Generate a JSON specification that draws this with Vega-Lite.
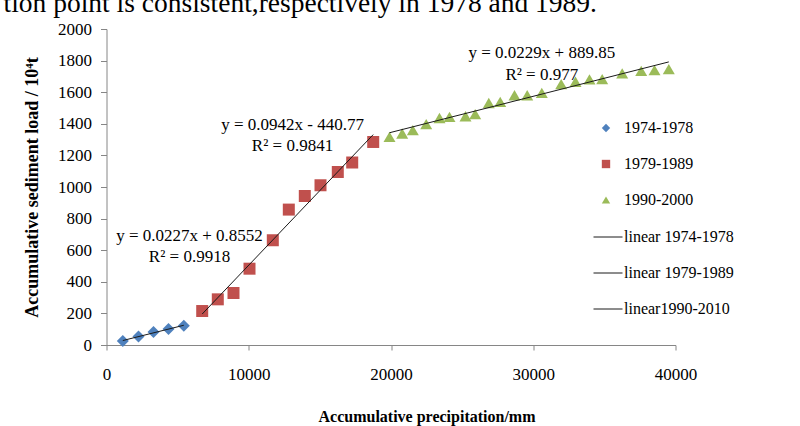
{
  "$schema": "https://vega.github.io/schema/vega-lite/v6.json",
  "width": 569,
  "height": 316,
  "autosize": {"type": "none"},
  "padding": {"left": 106.5, "top": 29, "right": 124.5, "bottom": 81},
  "background": "white",
  "title": {
    "text": "tion point is consistent,respectively in 1978 and 1989.",
    "anchor": "start",
    "frame": "group",
    "font": "Liberation Serif",
    "fontSize": 27.5,
    "fontWeight": "normal",
    "color": "black",
    "baseline": "alphabetic",
    "offset": 0,
    "dy": 19,
    "dx": -103
  },
  "config": {
    "view": {"stroke": null},
    "font": "Liberation Serif",
    "legend": {"labelFont": "Liberation Serif", "labelFontSize": 16, "labelColor": "black"}
  },
  "datasets": {
    "points": [
      {"x": 1146, "y": 25, "series": "1974-1978", "fit": "linear 1974-1978"},
      {"x": 2250, "y": 54, "series": "1974-1978", "fit": "linear 1974-1978"},
      {"x": 3304, "y": 82, "series": "1974-1978", "fit": "linear 1974-1978"},
      {"x": 4358, "y": 101, "series": "1974-1978", "fit": "linear 1974-1978"},
      {"x": 5435, "y": 122, "series": "1974-1978", "fit": "linear 1974-1978"},
      {"x": 6728, "y": 215, "series": "1979-1989", "fit": "linear 1979-1989"},
      {"x": 7824, "y": 289, "series": "1979-1989", "fit": "linear 1979-1989"},
      {"x": 8928, "y": 329, "series": "1979-1989", "fit": "linear 1979-1989"},
      {"x": 10053, "y": 483, "series": "1979-1989", "fit": "linear 1979-1989"},
      {"x": 11691, "y": 663, "series": "1979-1989", "fit": "linear 1979-1989"},
      {"x": 12816, "y": 857, "series": "1979-1989", "fit": "linear 1979-1989"},
      {"x": 13940, "y": 943, "series": "1979-1989", "fit": "linear 1979-1989"},
      {"x": 15044, "y": 1011, "series": "1979-1989", "fit": "linear 1979-1989"},
      {"x": 16260, "y": 1095, "series": "1979-1989", "fit": "linear 1979-1989"},
      {"x": 17273, "y": 1155, "series": "1979-1989", "fit": "linear 1979-1989"},
      {"x": 18749, "y": 1285, "series": "1979-1989", "fit": "linear 1979-1989"},
      {"x": 19895, "y": 1317, "series": "1990-2000", "fit": "linear1990-2010"},
      {"x": 20788, "y": 1339, "series": "1990-2000", "fit": "linear1990-2010"},
      {"x": 21533, "y": 1360, "series": "1990-2000", "fit": "linear1990-2010"},
      {"x": 22475, "y": 1398, "series": "1990-2000", "fit": "linear1990-2010"},
      {"x": 23409, "y": 1437, "series": "1990-2000", "fit": "linear1990-2010"},
      {"x": 24112, "y": 1444, "series": "1990-2000", "fit": "linear1990-2010"},
      {"x": 25237, "y": 1448, "series": "1990-2000", "fit": "linear1990-2010"},
      {"x": 25919, "y": 1461, "series": "1990-2000", "fit": "linear1990-2010"},
      {"x": 26875, "y": 1532, "series": "1990-2000", "fit": "linear1990-2010"},
      {"x": 27677, "y": 1539, "series": "1990-2000", "fit": "linear1990-2010"},
      {"x": 28682, "y": 1581, "series": "1990-2000", "fit": "linear1990-2010"},
      {"x": 29575, "y": 1581, "series": "1990-2000", "fit": "linear1990-2010"},
      {"x": 30601, "y": 1596, "series": "1990-2000", "fit": "linear1990-2010"},
      {"x": 31964, "y": 1651, "series": "1990-2000", "fit": "linear1990-2010"},
      {"x": 32970, "y": 1666, "series": "1990-2000", "fit": "linear1990-2010"},
      {"x": 33954, "y": 1681, "series": "1990-2000", "fit": "linear1990-2010"},
      {"x": 34847, "y": 1683, "series": "1990-2000", "fit": "linear1990-2010"},
      {"x": 36253, "y": 1719, "series": "1990-2000", "fit": "linear1990-2010"},
      {"x": 37589, "y": 1735, "series": "1990-2000", "fit": "linear1990-2010"},
      {"x": 38524, "y": 1740, "series": "1990-2000", "fit": "linear1990-2010"},
      {"x": 39529, "y": 1746, "series": "1990-2000", "fit": "linear1990-2010"}
    ],
    "notes": [
      {"x": 5835, "y": 688, "label": "y = 0.0227x + 0.8552"},
      {"x": 5835, "y": 555, "label": "R² = 0.9918"},
      {"x": 13076, "y": 1391, "label": "y = 0.0942x - 440.77"},
      {"x": 13076, "y": 1258, "label": "R² = 0.9841"},
      {"x": 30601, "y": 1845, "label": "y = 0.0229x + 889.85"},
      {"x": 30601, "y": 1712, "label": "R² = 0.977"}
    ]
  },
  "encoding": {
    "x": {
      "field": "x",
      "type": "quantitative",
      "scale": {"domain": [0, 40000], "nice": false},
      "axis": {
        "values": [0, 10000, 20000, 30000, 40000],
        "format": "d",
        "title": "Accumulative precipitation/mm",
        "grid": false,
        "domainColor": "#868686",
        "tickColor": "#868686",
        "tickSize": 5,
        "labelFont": "Liberation Serif",
        "labelFontSize": 17,
        "labelColor": "black",
        "labelPadding": 16,
        "labelFlush": false,
        "labelOverlap": false,
        "titleFont": "Liberation Serif",
        "titleFontSize": 16,
        "titleFontWeight": "bold",
        "titleColor": "black",
        "titleX": 320,
        "titleY": 71,
        "titleBaseline": "middle",
        "titleAlign": "center"
      }
    },
    "y": {
      "field": "y",
      "type": "quantitative",
      "scale": {"domain": [0, 2000], "nice": false},
      "axis": {
        "values": [0, 200, 400, 600, 800, 1000, 1200, 1400, 1600, 1800, 2000],
        "format": "d",
        "title": "Accumulative sediment load / 10⁴t",
        "grid": false,
        "domainColor": "#868686",
        "tickColor": "#868686",
        "tickSize": 6,
        "labelFont": "Liberation Serif",
        "labelFontSize": 17,
        "labelColor": "black",
        "labelPadding": 9,
        "labelFlush": false,
        "labelOverlap": false,
        "titleFont": "Liberation Serif",
        "titleFontSize": 18,
        "titleFontWeight": "bold",
        "titleColor": "black",
        "titleAngle": -90,
        "titleX": -74,
        "titleY": 158,
        "titleBaseline": "middle",
        "titleAlign": "center"
      }
    }
  },
  "layer": [
    {
      "data": {"name": "points"},
      "mark": {"type": "point", "filled": true, "opacity": 1, "size": 144},
      "encoding": {
        "color": {
          "field": "series",
          "type": "nominal",
          "scale": {"domain": ["1974-1978", "1979-1989", "1990-2000"], "range": ["#4F81BD", "#C0504D", "#9BBB59"]},
          "legend": {
            "title": null,
            "orient": "none",
            "legendX": 486.5,
            "legendY": 91,
            "symbolSize": 70,
            "symbolOffset": 5,
            "labelOffset": 10,
            "rowPadding": 20,
            "labelFont": "Liberation Serif",
            "labelFontSize": 16,
            "labelColor": "black"
          }
        },
        "shape": {
          "field": "series",
          "type": "nominal",
          "scale": {"domain": ["1974-1978", "1979-1989", "1990-2000"], "range": ["diamond", "square", "triangle-up"]},
          "legend": {
            "title": null,
            "orient": "none",
            "legendX": 486.5,
            "legendY": 91,
            "symbolSize": 70,
            "symbolOffset": 5,
            "labelOffset": 10,
            "rowPadding": 20,
            "labelFont": "Liberation Serif",
            "labelFontSize": 16,
            "labelColor": "black"
          }
        }
      }
    },
    {
      "data": {"name": "points"},
      "transform": [{"regression": "y", "on": "x", "groupby": ["fit"]}],
      "mark": {"type": "line", "strokeWidth": 1},
      "encoding": {
        "color": {
          "field": "fit",
          "type": "nominal",
          "scale": {"domain": ["linear 1974-1978", "linear 1979-1989", "linear1990-2010"], "range": ["#1a1a1a", "#1a1a1a", "#1a1a1a"]},
          "legend": {
            "title": null,
            "orient": "none",
            "legendX": 486.5,
            "legendY": 193,
            "symbolSize": 841,
            "symbolStrokeWidth": 1,
            "labelOffset": 1,
            "rowPadding": 13,
            "labelFont": "Liberation Serif",
            "labelFontSize": 16,
            "labelColor": "black"
          }
        }
      }
    },
    {
      "data": {"name": "notes"},
      "mark": {"type": "text", "font": "Liberation Serif", "fontSize": 17, "color": "black"},
      "encoding": {
        "text": {"field": "label"}
      }
    }
  ],
  "resolve": {"scale": {"color": "independent", "shape": "independent"}}
}
